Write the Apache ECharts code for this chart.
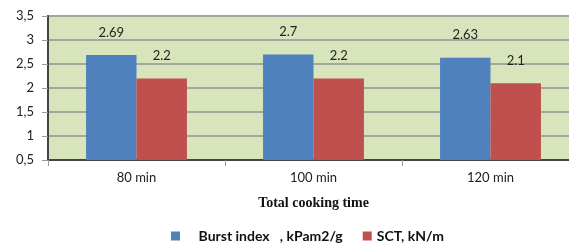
<!DOCTYPE html>
<html>
<head>
<meta charset="utf-8">
<script src="https://cdn.jsdelivr.net/npm/echarts@6/dist/echarts.min.js"></script>
<style>
    html, body {margin: 0; padding: 0; background: #fff;}
    #main {width: 569px; height: 250px;}
</style>
</head>
<body>
<div id="main"></div>
<script>
let categories = ['80 min', '100 min', '120 min'];
let burstIndex = [2.69, 2.7, 2.63];
let sct = [2.2, 2.2, 2.1];
let yTicks = [0.5, 1, 1.5, 2, 2.5, 3, 3.5];

let myChart = echarts.init(document.getElementById('main'));
let labelStyle = {
    show: true,
    position: 'top',
    distance: 16,
    color: '#222',
    fontFamily: 'Lato',
    fontSize: 13
};
let option = {
    animation: false,
    textStyle: {fontFamily: 'Lato'},
    grid: {
        left: 48,
        width: 531,
        top: 16,
        height: 144,
        outerBoundsMode: 'none',
        show: true,
        backgroundColor: '#d8e4bc',
        borderColor: '#3a3a3a',
        borderWidth: 1.5
    },
    legend: {
        bottom: 2,
        left: 166,
        itemWidth: 9,
        itemHeight: 9,
        itemGap: 20,
        icon: 'rect',
        textStyle: {fontFamily: 'Lato', fontWeight: 'bold', fontSize: 14, color: '#111'},
        data: ['    Burst index   , kPam2/g', 'SCT, kN/m']
    },
    xAxis: {
        type: 'category',
        data: categories,
        name: 'Total cooking time',
        nameLocation: 'middle',
        nameGap: 36,
        nameTextStyle: {fontFamily: 'Liberation Serif', fontWeight: 'bold', fontSize: 14, color: '#111'},
        axisLine: {lineStyle: {color: '#444', width: 2}},
        axisTick: {show: true, length: 6, lineStyle: {color: '#999'}},
        axisLabel: {color: '#222', fontSize: 13, margin: 11}
    },
    yAxis: {
        type: 'value',
        min: yTicks[0],
        max: yTicks[yTicks.length - 1],
        interval: 0.5,
        axisLine: {show: true, lineStyle: {color: '#444', width: 2}},
        axisTick: {show: true, length: 6, lineStyle: {color: '#999'}},
        axisLabel: {
            color: '#222',
            fontSize: 13,
            margin: 14,
            formatter: function (v) {
                return String(v).replace('.', ',');
            }
        },
        splitLine: {lineStyle: {color: '#a6a6a0', width: 2}}
    },
    series: [{
        name: '    Burst index   , kPam2/g',
        type: 'bar',
        data: burstIndex,
        barGap: 0,
        barCategoryGap: '43%',
        itemStyle: {color: '#4f81bd'},
        label: labelStyle
    }, {
        name: 'SCT, kN/m',
        type: 'bar',
        data: sct,
        itemStyle: {color: '#c0504d'},
        label: labelStyle
    }]
};
myChart.setOption(option);
</script>
</body>
</html>
